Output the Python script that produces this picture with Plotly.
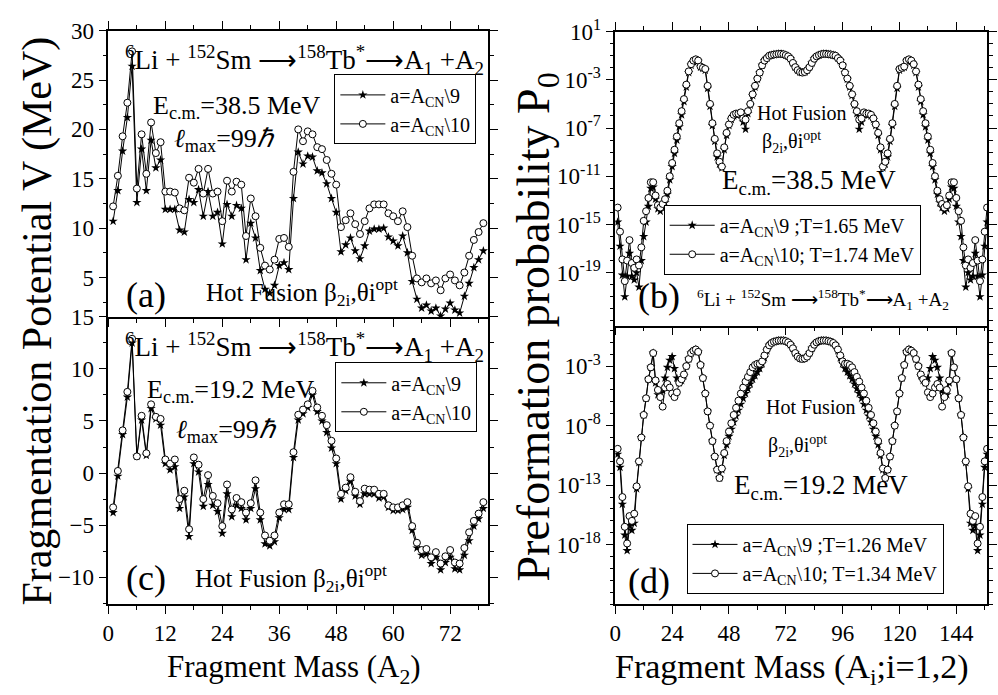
import plotly.graph_objects as go

# ---------------- data ----------------
A2_left = list(range(1, 80))          # fragment mass A2 (panels a, c)
A_right = list(range(1, 158))         # fragment mass Ai (panels b, d)

# panel (a): E_cm = 38.5 MeV, V (MeV)
V_a_a9 = [10.7, 13.8, 17.8, 21.2, 26.4, 12.6, 18.0, 13.8, 18.9, 16.1,
          16.9, 11.9, 11.9, 11.9, 9.8, 9.6, 12.9, 12.6, 13.9, 11.2,
          13.7, 11.2, 11.6, 8.4, 12.4, 11.2, 12.3, 12.0, 6.8, 10.5,
          9.0, 5.7, 3.8, 3.4, 4.2, 6.2, 6.5, 5.8, 13.0, 17.7,
          16.5, 17.3, 17.2, 15.8, 15.6, 14.5, 13.0, 11.6, 7.6, 8.3,
          9.0, 7.7, 6.9, 8.2, 9.7, 9.9, 9.9, 10.0, 9.1, 8.7,
          8.2, 9.2, 7.5, 4.6, 2.8, 1.9, 2.2, 1.6, 1.9, 1.1,
          1.8, 2.4, 1.7, 1.4, 3.1, 4.4, 6.0, 6.8, 7.7]
V_a_a10 = [12.2, 15.3, 19.3, 22.7, 27.9, 14.0, 19.5, 15.5, 20.7, 17.6,
           18.7, 13.7, 13.7, 13.6, 12.0, 11.8, 15.1, 14.6, 16.0, 13.5,
           16.0, 13.5, 13.7, 10.7, 14.8, 13.7, 14.7, 14.4, 9.2, 13.0,
           11.2, 8.0, 6.2, 5.8, 6.8, 8.9, 9.0, 8.1, 15.7, 20.0,
           18.8, 19.8, 19.5, 18.2, 18.0, 16.9, 15.5, 14.4, 10.1, 10.8,
           11.5, 10.4, 9.4, 10.7, 12.0, 12.4, 12.4, 12.4, 11.5, 11.2,
           10.7, 11.7, 10.1, 7.2, 4.9, 4.5, 4.9, 4.4, 4.7, 3.7,
           4.9, 5.3, 4.7, 4.2, 5.5, 7.2, 8.8, 9.6, 10.5]

# panel (c): E_cm = 19.2 MeV, V (MeV)
V_c_a9 = [-3.8, -0.3, 3.7, 7.3, 12.5, 1.6, 5.1, 1.7, 6.2, 5.2,
          4.6, 0.9, 0.3, 0.6, -3.4, -2.3, -6.1, 0.9, 0.1, -3.2,
          -1.1, -3.1, -3.7, -5.8, -2.0, -4.2, -3.1, -3.4, -4.5, -3.4,
          -1.5, -4.5, -6.8, -7.0, -6.6, -4.3, -3.5, -3.5, 1.5, 5.1,
          5.7, 6.3, 7.5, 5.9, 5.0, 3.9, 2.4, 0.9, -2.5, -1.7,
          -0.8, -2.2, -3.0, -2.0, -2.0, -2.0, -2.4, -2.3, -3.3, -3.6,
          -3.6, -3.5, -3.3, -5.5, -7.2, -7.9, -7.8, -8.7, -8.1, -9.3,
          -8.6, -8.1, -9.2, -9.3, -7.9, -6.5, -5.1, -4.4, -3.4]
V_c_a10 = [-3.3, 0.2, 4.1, 7.8, 12.9, 1.6, 5.5, 1.9, 6.6, 5.4,
           5.2, 1.3, 0.9, 1.3, -2.5, -1.7, -5.4, 1.5, 0.8, -2.5,
           -0.2, -2.2, -2.9, -5.1, -1.1, -3.5, -2.4, -2.8, -3.8, -2.9,
           -0.7, -3.8, -6.0, -6.5, -6.0, -3.8, -3.0, -3.0, 2.0, 5.6,
           6.1, 6.6, 7.9, 6.3, 5.5, 4.6, 3.1, 1.4, -2.0, -1.4,
           -0.4, -1.8, -2.7, -1.5, -1.6, -1.6, -2.0, -2.0, -3.1, -3.3,
           -3.3, -3.1, -2.8, -5.1, -6.7, -7.4, -7.3, -8.1, -7.6, -8.7,
           -8.0, -7.4, -8.6, -8.7, -7.2, -5.7, -4.6, -3.9, -2.8]

# panel (b): E_cm = 38.5 MeV, log10(P0)
logP_b_a9 = [-14.8, -16.8, -19.2, -21.0, -19.3, -17.4, -19.3, -19.6, -19.0, -20.2,
             -18.0, -16.0, -14.8, -13.5, -12.0, -11.9, -12.9, -13.7, -13.9, -13.6,
             -13.2, -12.5, -11.3, -10.2, -9.1, -8.0, -6.9, -5.9, -4.8, -3.6,
             -2.4, -1.8, -1.5, -1.35, -1.45, -1.95, -2.05, -2.2, -3.7, -5.2,
             -6.8, -8.1, -9.4, -10.0, -10.3, -8.8, -7.6, -6.8, -6.3, -6.0,
             -5.9, -5.9, -5.9, -6.5, -7.1, -5.8, -5.1, -4.3, -3.6, -2.95,
             -2.4, -1.8, -1.4, -1.2, -1.0, -0.95, -0.9, -0.88, -0.85, -0.85,
             -0.88, -0.95, -1.05, -1.25, -1.6, -1.95, -2.2, -2.35, -2.4, -2.35,
             -2.2, -1.95, -1.6, -1.25, -1.05, -0.95, -0.88, -0.85, -0.85, -0.88,
             -0.9, -0.95, -1.0, -1.2, -1.4, -1.8, -2.4, -2.95, -3.6, -4.3,
             -5.1, -5.8, -7.1, -6.5, -5.9, -5.9, -5.9, -6.0, -6.3, -6.8,
             -7.6, -8.8, -10.3, -10.0, -9.4, -8.1, -6.8, -5.2, -3.7, -2.2,
             -2.05, -1.95, -1.45, -1.35, -1.5, -1.8, -2.4, -3.6, -4.8, -5.9,
             -6.9, -8.0, -9.1, -10.2, -11.3, -12.5, -13.2, -13.6, -13.9, -13.7,
             -12.9, -11.9, -12.0, -13.5, -14.8, -16.0, -18.0, -20.2, -19.0, -19.6,
             -19.3, -17.4, -19.3, -21.0, -19.2, -16.8, -14.8]
logP_b_a10 = [-13.6, -15.6, -17.9, -19.7, -18.0, -16.3, -18.2, -18.6, -17.9, -18.4,
              -16.9, -14.7, -13.9, -12.8, -11.5, -11.5, -12.6, -13.4, -13.6, -13.3,
              -12.9, -12.2, -11.0, -9.9, -8.8, -7.7, -6.6, -5.6, -4.6, -3.4,
              -2.3, -1.7, -1.4, -1.3, -1.4, -1.9, -2.0, -2.1, -3.5, -5.0,
              -6.6, -7.9, -9.1, -9.8, -10.2, -8.6, -7.4, -6.7, -6.2, -5.9,
              -5.8, -5.8, -5.7, -6.2, -6.3, -5.6, -5.0, -4.2, -3.5, -2.9,
              -2.4, -1.8, -1.4, -1.2, -1.0, -0.95, -0.9, -0.88, -0.85, -0.85,
              -0.88, -0.95, -1.05, -1.25, -1.6, -1.95, -2.2, -2.35, -2.4, -2.35,
              -2.2, -1.95, -1.6, -1.25, -1.05, -0.95, -0.88, -0.85, -0.85, -0.88,
              -0.9, -0.95, -1.0, -1.2, -1.4, -1.8, -2.4, -2.9, -3.5, -4.2,
              -5.0, -5.6, -6.3, -6.2, -5.7, -5.8, -5.8, -5.9, -6.2, -6.7,
              -7.4, -8.6, -10.2, -9.8, -9.1, -7.9, -6.6, -5.0, -3.5, -2.1,
              -2.0, -1.9, -1.4, -1.3, -1.4, -1.7, -2.3, -3.4, -4.6, -5.6,
              -6.6, -7.7, -8.8, -9.9, -11.0, -12.2, -12.9, -13.3, -13.6, -13.4,
              -12.6, -11.5, -11.5, -12.8, -13.9, -14.7, -16.9, -18.4, -17.9, -18.6,
              -18.2, -16.3, -18.0, -19.7, -17.9, -15.6, -13.6]

# panel (d): E_cm = 19.2 MeV, log10(P0)
logP_d_a9 = [-10.4, -11.5, -14.6, -17.2, -18.5, -16.4, -16.8, -16.2, -13.3, -11.1,
             -9.0, -7.1, -5.7, -4.1, -3.1, -1.9, -4.4, -5.4, -5.3, -5.0,
             -4.0, -3.1, -2.5, -2.2, -3.2, -4.0, -4.4, -4.2, -3.8, -3.0,
             -2.4, -1.9, -1.7, -1.6, -1.8, -2.9, -4.0, -5.3, -6.8, -8.0,
             -9.3, -10.6, -11.7, -12.4, -11.7, -10.5, -9.6, -8.9, -8.3, -7.7,
             -7.2, -6.7, -6.2, -5.7, -5.3, -4.9, -4.5, -4.1, -3.8, -3.5,
             -3.2, -2.8, -2.3, -1.7, -1.25, -1.05, -0.95, -0.9, -0.85, -0.85,
             -0.85, -0.9, -1.0, -1.2, -1.5, -1.9, -2.2, -2.35, -2.4, -2.35,
             -2.2, -1.9, -1.5, -1.2, -1.0, -0.9, -0.85, -0.85, -0.85, -0.9,
             -0.95, -1.05, -1.25, -1.7, -2.3, -2.8, -3.2, -3.5, -3.8, -4.1,
             -4.5, -4.9, -5.3, -5.7, -6.2, -6.7, -7.2, -7.7, -8.3, -8.9,
             -9.6, -10.5, -11.7, -12.4, -11.7, -10.6, -9.3, -8.0, -6.8, -5.3,
             -4.0, -2.9, -1.8, -1.6, -1.7, -1.9, -2.4, -3.0, -3.8, -4.2,
             -4.4, -4.0, -3.2, -2.2, -2.5, -3.1, -4.0, -5.0, -5.3, -5.4,
             -4.4, -1.9, -3.1, -4.1, -5.7, -7.1, -9.0, -11.1, -13.3, -16.2,
             -16.8, -16.4, -18.5, -17.2, -14.6, -11.5, -10.4]
logP_d_a10 = [-9.95, -11.0, -14.0, -16.5, -17.9, -15.6, -16.0, -15.4, -13.1, -11.0,
              -9.0, -7.1, -5.7, -4.1, -3.1, -1.9, -4.2, -5.0, -5.6, -6.4,
              -4.8, -4.5, -4.8, -5.3, -5.6, -5.2, -4.4, -4.1, -3.7, -3.0,
              -2.4, -1.9, -1.7, -1.6, -1.8, -2.9, -4.0, -5.3, -6.8, -8.0,
              -9.3, -10.6, -11.7, -12.4, -11.6, -10.3, -9.3, -8.5, -7.8, -7.1,
              -6.5, -5.9, -5.3, -4.8, -4.3, -3.9, -3.5, -3.1, -2.9, -2.8,
              -2.8, -2.6, -2.1, -1.6, -1.25, -1.05, -0.95, -0.9, -0.85, -0.85,
              -0.85, -0.9, -1.0, -1.2, -1.5, -1.9, -2.2, -2.35, -2.4, -2.35,
              -2.2, -1.9, -1.5, -1.2, -1.0, -0.9, -0.85, -0.85, -0.85, -0.9,
              -0.95, -1.05, -1.25, -1.6, -2.1, -2.6, -2.8, -2.8, -2.9, -3.1,
              -3.5, -3.9, -4.3, -4.8, -5.3, -5.9, -6.5, -7.1, -7.8, -8.5,
              -9.3, -10.3, -11.6, -12.4, -11.7, -10.6, -9.3, -8.0, -6.8, -5.3,
              -4.0, -2.9, -1.8, -1.6, -1.7, -1.9, -2.4, -3.0, -3.7, -4.1,
              -4.4, -5.2, -5.6, -5.3, -4.8, -4.5, -4.8, -6.4, -5.6, -5.0,
              -4.2, -1.9, -3.1, -4.1, -5.7, -7.1, -9.0, -11.0, -13.1, -15.4,
              -16.0, -15.6, -17.9, -16.5, -14.0, -11.0, -9.95]

left_xticks = [0, 12, 24, 36, 48, 60, 72]
right_xticks = [0, 24, 48, 72, 96, 120, 144]
a_yticks = [5, 10, 15, 20, 25, 30]
c_yticks = [-10, -5, 0, 5, 10, 15]
b_yexp = [1, -3, -7, -11, -15, -19]
d_yexp = [-3, -8, -13, -18]

# ---------------- figure ----------------
FONT = "'Liberation Serif', 'Times New Roman', Times, serif"
fig = go.Figure()


def add_pair(xa, ya, x, ys, yo, leg, names):
    fig.add_trace(go.Scatter(
        x=x, y=ys, mode="lines+markers", xaxis=xa, yaxis=ya, legend=leg,
        name=names[0], line=dict(color="black", width=1),
        marker=dict(symbol="star", size=7, color="black", line=dict(width=0))))
    fig.add_trace(go.Scatter(
        x=x, y=yo, mode="lines+markers", xaxis=xa, yaxis=ya, legend=leg,
        name=names[1], line=dict(color="black", width=1),
        marker=dict(symbol="circle", size=7, color="white",
                    line=dict(color="black", width=1))))


add_pair("x", "y", A2_left, V_a_a9, V_a_a10, "legend",
         ["a=A<sub>CN</sub>\\9", "a=A<sub>CN</sub>\\10"])
add_pair("x3", "y3", A2_left, V_c_a9, V_c_a10, "legend3",
         ["a=A<sub>CN</sub>\\9", "a=A<sub>CN</sub>\\10"])
add_pair("x2", "y2", A_right, [10 ** v for v in logP_b_a9],
         [10 ** v for v in logP_b_a10], "legend2",
         ["a=A<sub>CN</sub>\\9 ;T=1.65 MeV", "a=A<sub>CN</sub>\\10; T=1.74 MeV"])
add_pair("x4", "y4", A_right, [10 ** v for v in logP_d_a9],
         [10 ** v for v in logP_d_a10], "legend4",
         ["a=A<sub>CN</sub>\\9 ;T=1.26 MeV", "a=A<sub>CN</sub>\\10; T=1.34 MeV"])

tickfont = dict(family=FONT, size=23, color="black")
common = dict(showline=True, linecolor="black", linewidth=1.5,
              ticks="outside", ticklen=8, tickwidth=1.2, tickcolor="black",
              showgrid=False, zeroline=False, tickfont=tickfont)

XL = [0.1032, 0.486]
XR = [0.6142, 0.989]
Y_a = [0.5568, 0.9784]
Y_c = [0.1338, 0.5568]
Y_b = [0.5439, 0.977]
Y_d = [0.1338, 0.5439]

minor_lin_x = dict(dtick=6, ticklen=4, tickcolor="black", ticks="outside")
minor_r_x = dict(dtick=12, ticklen=4, tickcolor="black", ticks="outside")

fig.update_layout(
    xaxis=dict(domain=XL, range=[0, 80], anchor="y", tickvals=left_xticks,
               showticklabels=False, minor=minor_lin_x, mirror="ticks", **common),
    yaxis=dict(domain=Y_a, range=[1, 30], anchor="x", tickvals=a_yticks,
               minor=dict(dtick=2.5, ticklen=4, tickcolor="black", ticks="outside"),
               mirror="ticks", **common),
    xaxis3=dict(domain=XL, range=[0, 80], anchor="y3", tickvals=left_xticks,
                minor=minor_lin_x, mirror=False, **common),
    yaxis3=dict(domain=Y_c, range=[-12.6, 15], anchor="x3", tickvals=c_yticks,
                minor=dict(dtick=2.5, tick0=0, ticklen=4, tickcolor="black",
                           ticks="outside"), mirror="ticks", **common),
    xaxis2=dict(domain=XR, range=[0, 157], anchor="y2", tickvals=right_xticks,
                showticklabels=False, minor=minor_r_x, mirror="ticks", **common),
    yaxis2=dict(domain=Y_b, type="log", range=[-23.4, 1], anchor="x2",
                tickvals=[10.0 ** e for e in b_yexp],
                ticktext=["10<sup>%d</sup>" % e for e in b_yexp],
                minor=dict(tickvals=[10.0 ** k for k in range(-23, 2)],
                           ticklen=4, tickcolor="black", ticks="outside"),
                mirror="ticks", **common),
    xaxis4=dict(domain=XR, range=[0, 157], anchor="y4", tickvals=right_xticks,
                minor=minor_r_x, mirror=False, **common),
    yaxis4=dict(domain=Y_d, type="log", range=[-23, 0.4], anchor="x4",
                tickvals=[10.0 ** e for e in d_yexp],
                ticktext=["10<sup>%d</sup>" % e for e in d_yexp],
                minor=dict(tickvals=[10.0 ** k for k in range(-23, 1)],
                           ticklen=4, tickcolor="black", ticks="outside"),
                mirror="ticks", **common),
)

leg_common = dict(bgcolor="white", bordercolor="black", borderwidth=1,
                  xanchor="left", yanchor="top", itemwidth=45,
                  tracegroupgap=0, traceorder="normal")
LF = dict(family=FONT, size=20, color="black")
fig.update_layout(
    legend=dict(x=0.331, y=0.914, font=LF, **leg_common),
    legend3=dict(x=0.332, y=0.49, font=LF, **leg_common),
    legend2=dict(x=0.663, y=0.722, font=LF, **leg_common),
    legend4=dict(x=0.686, y=0.252, font=LF, **leg_common),
)

reaction = ("<sup>6</sup>Li + <sup>152</sup>Sm \u27f6<sup>158</sup>Tb<sup>*</sup>"
            "\u27f6A<sub>1</sub> +A<sub>2</sub>")
hot = "Hot Fusion \u03b2<sub>2i</sub>,\u03b8i<sup>opt</sup>"
lmax = "<i>\u2113</i><sub>max</sub>=99<i>\u210f</i>"


def ann(text, x, y, size, angle=0):
    fig.add_annotation(text=text, x=x / 998.0, y=1 - y / 695.0, xref="paper",
                       yref="paper", showarrow=False, xanchor="center",
                       yanchor="middle", textangle=angle,
                       font=dict(family=FONT, size=size, color="black"))


# panel (a)
ann(reaction, 300, 45, 27)
ann("E<sub>c.m.</sub>=38.5 MeV", 232, 93, 26)
ann(lmax, 220, 127, 26)
ann("(a)", 141, 286, 36)
ann(hot, 298, 283, 25)
# panel (c)
ann(reaction, 300, 339, 27)
ann("E<sub>c.m.</sub>=19.2 MeV", 226, 384, 26)
ann(lmax, 222, 425, 26)
ann("(c)", 141, 575, 36)
ann(hot, 287, 575, 25)
# panel (b)
ann("Hot Fusion", 800, 99, 20)
ann("\u03b2<sub>2i</sub>,\u03b8i<sup>opt</sup>", 790, 129, 20)
ann("E<sub>c.m.</sub>=38.5 MeV", 808, 170, 27)
ann("(b)", 657, 287, 36)
ann(reaction, 822, 290, 19)
# panel (d)
ann("Hot Fusion", 809, 400, 20)
ann("\u03b2<sub>2i</sub>,\u03b8i<sup>opt</sup>", 796, 440, 20)
ann("E<sub>c.m.</sub>=19.2 MeV", 820, 482, 27)
ann("(d)", 647, 578, 36)
# axis titles
ann("Fragmentation Potential V (MeV)", 32, 312, 42, -90)
ann("Preformation probability P<sub>0</sub>", 534, 318, 46, -90)
ann("Fragment Mass (A<sub>2</sub>)", 290, 668, 31)
ann("Fragment Mass (A<sub>i</sub>;i=1,2)", 790, 668, 34)

fig.update_layout(width=998, height=695, margin=dict(l=0, r=0, t=0, b=0),
                  paper_bgcolor="white", plot_bgcolor="white",
                  font=dict(family=FONT, color="black"))

fig.write_html("out.html")
